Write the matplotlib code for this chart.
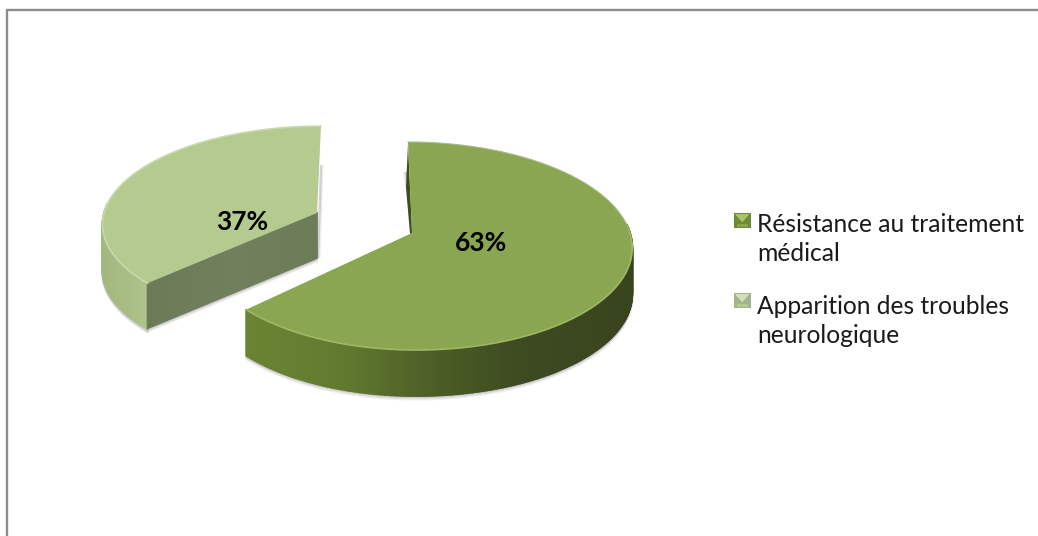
#!/usr/bin/env python3
import numpy as np
import matplotlib
matplotlib.use("Agg")
import matplotlib.pyplot as plt
from matplotlib.colors import to_rgb
from matplotlib.patches import Polygon

labels = ["Résistance au traitement\nmédical", "Apparition des troubles\nneurologique"]
values = [63, 37]
value_labels = ["63%", "37%"]

FONT = "Lato"
DEPTH = 46


def project(theta, cx, cy, rx, ry, persp, lean, left=1.0):
    # theta runs clockwise from twelve o'clock, near side of the disc is larger
    u = np.sin(theta)
    v = -np.cos(theta)
    w = 1 - persp * v
    return cx + rx * np.where(u < 0, left, 1.0) * u / w + lean * v, cy + ry * v / w


def ramp(stops, t):
    xs = [s[0] for s in stops]
    return tuple(np.interp(t, xs, [to_rgb(s[1])[i] for s in stops]) for i in range(3))


def draw_wall(ax, x, y, stops, z, depth=DEPTH):
    # outer wall as thin vertical strips, coloured by horizontal position
    lo, hi = x.min(), x.max()
    for i in range(len(x) - 1):
        t = (x[i] - lo) / (hi - lo)
        quad = [(x[i], y[i]), (x[i + 1], y[i + 1]),
                (x[i + 1], y[i + 1] + depth), (x[i], y[i] + depth)]
        c = ramp(stops, t)
        ax.add_patch(Polygon(quad, closed=True, fc=c, ec=c, lw=1.3, zorder=z))


def draw_soft_edge(ax, x, y, color, z):
    # faint shadow under the base of a slice
    for off, alpha in ((3.5, 0.08), (2.2, 0.13), (1.0, 0.2)):
        ax.plot(x, y + off, color=color, alpha=alpha, lw=1.6, zorder=z,
                solid_capstyle="round")


def draw_legend_key(ax, x0, y0, w, h, face, side, corner):
    # bevelled square: pale wedge on top, darker sides
    ax.fill([x0, x0 + w, x0 + w, x0], [y0, y0, y0 + h, y0 + h], color=side, lw=0, zorder=3)
    mx, my = x0 + w / 2, y0 + h * 0.62
    ax.fill([x0 + 1, x0 + w - 1, mx], [y0 + 1, y0 + 1, my], color=face, lw=0, zorder=4)
    ax.fill([x0 + 3, x0 + w - 3, x0 + w - 3, x0 + 3],
            [y0 + h - 4, y0 + h - 4, y0 + h - 1, y0 + h - 1], color=corner, lw=0, zorder=4)


fig = plt.figure(figsize=(10.38, 5.36), dpi=100)
ax = fig.add_axes([0, 0, 1, 1])
ax.set_xlim(0, 1038)
ax.set_ylim(536, 0)
ax.axis("off")

# frame only shows on the left and top
ax.plot([7, 7, 1038], [536, 10, 10], color="#8c8c8c", lw=1.7, zorder=0,
        solid_joinstyle="miter")

fractions = np.array(values) / sum(values)
split = 2 * np.pi * fractions[0]

# large slice, starts at twelve o'clock and runs clockwise
big = dict(cx=412, cy=233, rx=218, ry=102.4, persp=0.125, lean=4, left=0.97)
th = np.linspace(0, split, 300)
bx, by = project(th, **big)
near = (th > np.pi / 2 - 0.1) & (th <= split)
draw_soft_edge(ax, bx[near], by[near] + DEPTH, "#555555", 1)
draw_wall(ax, bx[near], by[near],
          [(0, "#6b8433"), (0.25, "#627a2f"), (0.45, "#4f6228"), (0.7, "#3e4b20"), (1, "#39441f")], 2)

# back wall, a dark sliver with a soft grey shadow left of the top face
sl_y = np.array([by[0] + 30, big["cy"]])
sl_x = np.array([bx[0] + 1, big["cx"]])
for off, alpha in ((6, 0.10), (4.5, 0.18), (3, 0.3)):
    ax.fill([sl_x[0] - off, sl_x[1] - 1, sl_x[1], sl_x[0]],
            [sl_y[0], sl_y[1], sl_y[1], sl_y[0]], color="#666666", alpha=alpha, lw=0, zorder=1)
ax.fill([bx[0], bx[0] - 2, big["cx"] - 2, big["cx"]],
        [by[0] + 2, by[0] + 45, big["cy"] + 1, big["cy"]], color="#3f4c20", lw=0, zorder=2)

top = np.column_stack([np.r_[big["cx"], bx], np.r_[big["cy"], by]])
ax.add_patch(Polygon(top, closed=True, fc="#8aa650", ec="none", zorder=3))
ax.plot(bx[near], by[near], color="#9db965", lw=1.2, zorder=4)
ax.plot(bx[~near], by[~near], color="#a8b98a", lw=0.8, zorder=4)
ax.text(481, 243, value_labels[0], fontsize=19, fontweight="bold", family=FONT,
        ha="center", va="center", color="black", zorder=6)

# small slice, pulled out towards the upper left
small = dict(cx=317, cy=213, rx=213, ry=95.5, persp=0.1, lean=-4)
th2 = np.linspace(split, 2 * np.pi, 200)
sx, sy = project(th2, **small)
keep = th2 < 1.5 * np.pi + 0.1
draw_soft_edge(ax, sx[keep], sy[keep] + DEPTH, "#555555", 1)
draw_wall(ax, sx[keep], sy[keep], [(0, "#a3b87f"), (0.6, "#a9bd85"), (1, "#b0c48d")], 2)

# cut face in front, running from the corner back to the centre
cut_x = np.linspace(sx[0], small["cx"], 60)
cut_y = np.linspace(sy[0], small["cy"], 60)
draw_soft_edge(ax, cut_x, cut_y + 45, "#555555", 1)
draw_wall(ax, cut_x, cut_y, [(0, "#6b7b58"), (0.5, "#707f5c"), (1, "#6d7c58")], 3, depth=45)

# shadow down the right side of the slice
for off, alpha in ((2.5, 0.10), (1.0, 0.25)):
    ax.plot([sx[-1] + off - 1, small["cx"] + off], [sy[-1] + 40, small["cy"] + 44],
            color="#555555", alpha=alpha, lw=1.6, zorder=1)

top2 = np.column_stack([np.r_[small["cx"], sx], np.r_[small["cy"], sy]])
ax.add_patch(Polygon(top2, closed=True, fc="#b5ca8f", ec="none", zorder=4))
ax.plot(sx, sy, color="#c9d8ad", lw=1.2, zorder=5)
ax.text(242, 222, value_labels[1], fontsize=19, fontweight="bold", family=FONT,
        ha="center", va="center", color="black", zorder=6)

# legend drawn by hand so each entry can wrap over two lines
legend_y = [213, 293]
legend_colors = [("#a9c46a", "#6f8a35", "#86a34a"), ("#d3e0b8", "#a3b38c", "#b5ca8f")]
text_y = [239, 321]
for lab, y, ty, (face, side, corner) in zip(labels, legend_y, text_y, legend_colors):
    draw_legend_key(ax, 734, y, 16.5, 15, face, side, corner)
    ax.text(757, ty, lab, fontsize=17.7, family=FONT, ha="left", va="center",
            color="#1a1a1a", linespacing=1.36, zorder=4)

fig.savefig("out.png", dpi=100)
